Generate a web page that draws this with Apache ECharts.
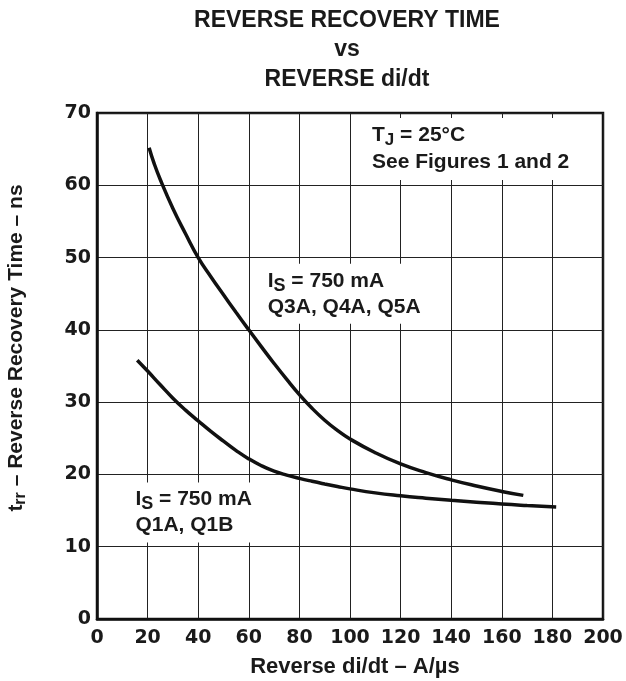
<!DOCTYPE html>
<html><head><meta charset="utf-8">
<script src="https://cdn.jsdelivr.net/npm/echarts@6/dist/echarts.min.js"></script>
<style>html,body{margin:0;padding:0;background:#fff}#c{width:626px;height:681px}</style>
</head><body><div id="c"></div>
<script>
// Curve: IS = 750 mA, Q3A, Q4A, Q5A
const q3aX = [20.6, 22.5, 25, 30, 35, 40, 45, 50, 55, 60, 65, 70, 75, 80, 85, 90, 95, 100, 110, 120, 130, 140, 150, 160, 168.5];
const q3aY = [65.2, 63.1, 60.8, 56.8, 53.3, 50.0, 47.35, 44.85, 42.4, 40.0, 37.65, 35.35, 33.15, 31.05, 29.15, 27.5, 26.1, 24.9, 23.0, 21.45, 20.25, 19.25, 18.4, 17.65, 17.1];
// Curve: IS = 750 mA, Q1A, Q1B
const q1aX = [15.9, 20, 25, 30, 35, 40, 45, 50, 55, 60, 65, 70, 75, 80, 85, 90, 95, 100, 110, 120, 130, 140, 150, 160, 170, 181.5];
const q1aY = [35.8, 34.3, 32.4, 30.55, 28.9, 27.4, 25.95, 24.6, 23.3, 22.15, 21.2, 20.45, 19.9, 19.45, 19.05, 18.68, 18.33, 18.0, 17.45, 17.05, 16.72, 16.42, 16.15, 15.9, 15.7, 15.5];
const xTickMin = 0, xTickMax = 200, xTickStep = 20;
const yTickMin = 0, yTickMax = 70, yTickStep = 10;

const pairs = (xs, ys) => xs.map((x, i) => [x, ys[i]]);
const TXT = '#1a1a1a';
const LAB = 'bold 21px "Liberation Sans", Arial, sans-serif';

const chart = echarts.init(document.getElementById('c'), null, {renderer: 'canvas'});
chart.setOption({
  animation: false,
  backgroundColor: '#fff',
  grid: {left: 97, right: 23, top: 113, bottom: 62, show: true, borderColor: '#111', borderWidth: 2.5, backgroundColor: 'transparent'},
  xAxis: {
    type: 'value', min: xTickMin, max: xTickMax, interval: xTickStep,
    axisLine: {show: true, lineStyle: {color: '#111', width: 2.5}},
    axisTick: {show: false},
    splitLine: {show: true, lineStyle: {color: '#222', width: 1}},
    axisLabel: {color: TXT, fontFamily: '"DejaVu Sans"', fontWeight: 'bold', fontSize: 19, margin: 10}
  },
  yAxis: {
    type: 'value', min: yTickMin, max: yTickMax, interval: yTickStep,
    axisLine: {show: true, lineStyle: {color: '#111', width: 2.5}},
    axisTick: {show: false},
    splitLine: {show: true, lineStyle: {color: '#222', width: 1}},
    axisLabel: {color: TXT, fontFamily: '"DejaVu Sans"', fontWeight: 'bold', fontSize: 19, margin: 6}
  },
  series: [
    {type: 'line', data: pairs(q3aX, q3aY), smooth: 0.5, showSymbol: false, lineStyle: {color: '#111', width: 3.5}, z: 5},
    {type: 'line', data: pairs(q1aX, q1aY), smooth: 0.5, showSymbol: false, lineStyle: {color: '#111', width: 3.5}, z: 5}
  ],
  graphic: [
    {type: 'text', x: 347, y: 5.5, z: 100, style: {text: 'REVERSE RECOVERY TIME\nvs\nREVERSE di/dt', align: 'center', verticalAlign: 'top', font: 'bold 23px "Liberation Sans", Arial, sans-serif', lineHeight: 29.5, fill: TXT}},
    {type: 'text', x: 355, y: 667, z: 100, style: {text: 'Reverse di/dt – A/µs', align: 'center', verticalAlign: 'middle', font: 'bold 22px "Liberation Sans", Arial, sans-serif', fill: TXT}},
    {type: 'text', x: 16, y: 348, rotation: Math.PI / 2, z: 100, style: {
      text: '{m|t}{s|rr}{m| – Reverse Recovery Time – ns}', align: 'center', verticalAlign: 'middle', fill: TXT,
      rich: {m: {font: LAB, fill: TXT, lineHeight: 26}, s: {font: 'bold 16px "Liberation Sans", Arial, sans-serif', fill: TXT, lineHeight: 26, padding: [10, 0, 0, 0]}}
    }},
    {type: 'text', x: 364, y: 118, z: 100, style: {
      text: '{m|T}{s|J}{m| = 25°C}\n{m|See Figures 1 and 2}', align: 'left', verticalAlign: 'top', fill: TXT,
      backgroundColor: '#fff', padding: [4, 8, 4, 8],
      rich: {m: {font: LAB, fill: TXT, lineHeight: 27}, s: {font: 'bold 17px "Liberation Sans", Arial, sans-serif', fill: TXT, lineHeight: 27, padding: [10, 0, 0, 0]}}
    }},
    {type: 'text', x: 261.7, y: 263.8, z: 100, style: {
      text: '{m|I}{s|S}{m| = 750 mA}\n{m|Q3A, Q4A, Q5A}', align: 'left', verticalAlign: 'top', fill: TXT,
      backgroundColor: '#fff', padding: [4, 8, 4, 6],
      rich: {m: {font: LAB, fill: TXT, lineHeight: 26}, s: {font: 'bold 18px "Liberation Sans", Arial, sans-serif', fill: TXT, lineHeight: 26, padding: [10, 0, 0, 0]}}
    }},
    {type: 'text', x: 129.4, y: 482.5, z: 100, style: {
      text: '{m|I}{s|S}{m| = 750 mA}\n{m|Q1A, Q1B}', align: 'left', verticalAlign: 'top', fill: TXT,
      backgroundColor: '#fff', padding: [4, 8, 4, 6],
      rich: {m: {font: LAB, fill: TXT, lineHeight: 26}, s: {font: 'bold 18px "Liberation Sans", Arial, sans-serif', fill: TXT, lineHeight: 26, padding: [10, 0, 0, 0]}}
    }}
  ]
});
</script></body></html>
